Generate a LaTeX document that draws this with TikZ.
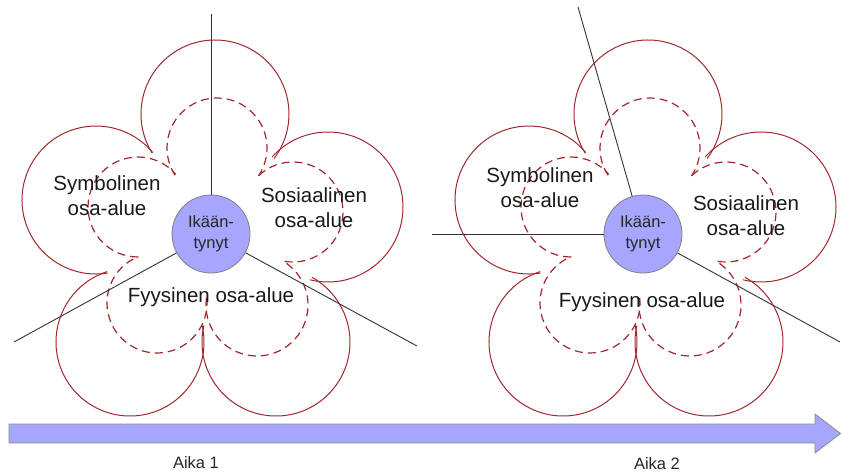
\documentclass[tikz,border=0pt]{standalone}
\usepackage{fontspec}
\setmainfont{Liberation Sans}
\definecolor{petal}{RGB}{160,40,45}
\definecolor{lav}{RGB}{166,166,255}
\begin{document}
\begin{tikzpicture}[x=1pt,y=-1pt,
  outerpetal/.style={draw=petal,line width=1pt},
  innerpetal/.style={draw=petal,line width=1.2pt,dash pattern=on 8pt off 5pt},
  axisline/.style={draw=black!80,line width=0.9pt},
  hub/.style={circle,fill=lav,draw=black!50,line width=0.8pt,minimum size=78pt,
    inner sep=0pt,align=center,font=\fontsize{16.5}{21}\selectfont,text=black!85},
  arealabel/.style={align=center,font=\fontsize{20.5}{25}\selectfont,text=black!90},
  timelabel/.style={font=\fontsize{16.5}{20}\selectfont,text=black!85},
  timearrow/.style={fill=lav,draw=black!45,line width=0.8pt,line join=miter}]
\useasboundingbox (0,0) rectangle (841,474);

% five-lobed flower: each lobe is an arc (centre x, centre y, radius,
% start angle, end angle); the ends run slightly past the cusps
\newcommand\drawflower{%
  \foreach \cx/\cy/\r/\a/\b in {215/114/74/148/397, 328/207/75/222/464,
      276/342/74/193/-61, 130/342/74/-13/252, 96/200/74/81/320}{
    \draw[outerpetal] (\cx,\cy) ++(\a:\r) arc[start angle=\a,end angle=\b,radius=\r];
  }
  \foreach \cx/\cy/\r/\a/\b in {217/148/50/147/394, 293/212/50/227/461,
      257/305/51/188/-59, 157/303/50/-6/248, 138/207/50/90/319}{
    \draw[innerpetal] (\cx,\cy) ++(\a:\r) arc[start angle=\a,end angle=\b,radius=\r];
  }}

\drawflower
\begin{scope}[xshift=433]
  \drawflower
\end{scope}

% first moment
\node[hub] (c1) at (211,234) {Ikään-\\tynyt};
\coordinate (c1up) at (211,14);
\coordinate (c1left) at (14,342);
\coordinate (c1right) at (417,346);
\draw[axisline] (c1) -- (c1up);
\draw[axisline] (c1) -- (c1left);
\draw[axisline] (c1) -- (c1right);
\node[arealabel] (sym1) at (107,196) {Symbolinen\\osa-alue};
\node[arealabel] (sos1) at (314,208) {Sosiaalinen\\osa-alue};
\node[arealabel] (fyy1) at (211,297) {Fyysinen osa-alue};

% second moment
\node[hub] (c2) at (643,234) {Ikään-\\tynyt};
\coordinate (c2up) at (578,7);
\coordinate (c2left) at (432,234);
\coordinate (c2right) at (840,342);
\draw[axisline] (c2) -- (c2up);
\draw[axisline] (c2) -- (c2left);
\draw[axisline] (c2) -- (c2right);
\node[arealabel] (sym2) at (540,188) {Symbolinen\\osa-alue};
\node[arealabel] (sos2) at (746,216) {Sosiaalinen\\osa-alue};
\node[arealabel] (fyy2) at (642,302) {Fyysinen osa-alue};

% time axis
\draw[timearrow] (9,424) -- (815,424) -- (815,414) -- (840.5,433.5)
  -- (815,453) -- (815,443) -- (9,443) -- cycle;
\node[timelabel] (t1) at (196,463) {Aika 1};
\node[timelabel] (t2) at (657,464) {Aika 2};
\end{tikzpicture}
\end{document}
